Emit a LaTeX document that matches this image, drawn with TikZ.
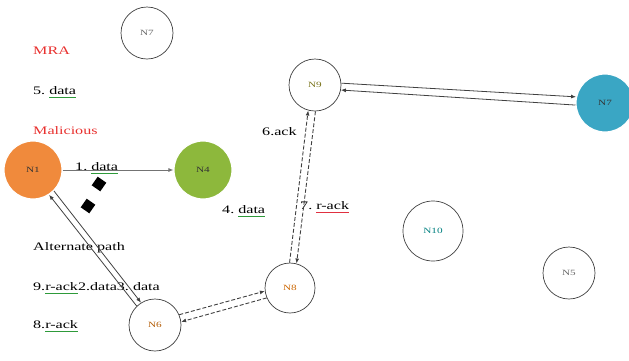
\documentclass[tikz,border=0pt]{standalone}
\usepackage{fontspec}
\setmainfont[FakeStretch=1.4]{Liberation Serif}
\usetikzlibrary{shapes.geometric,arrows.meta}
\newcommand{\ulc}[2]{\setbox0\hbox{#2}\rlap{\color{#1}\rule[-3pt]{\wd0}{0.8pt}}\box0\relax}
\definecolor{orN}{HTML}{F08A3C}
\definecolor{grN}{HTML}{8DB83C}
\definecolor{blN}{HTML}{3AA6C4}
\definecolor{ulg}{HTML}{2E9A3A}
\definecolor{ulr}{HTML}{E03040}
\definecolor{txr}{HTML}{E8302E}
\begin{document}
\begin{tikzpicture}[x=1pt,y=-1pt,
  wnode/.style={circle,draw=black!75,line width=0.7pt,fill=white,minimum size=52pt,inner sep=0pt,font=\fontsize{8}{9}\selectfont},
  cnode/.style={circle,draw=white,line width=1.2pt,minimum size=58pt,inner sep=0pt,font=\fontsize{8}{9}\selectfont,text=black!80},
  lbl/.style={anchor=west,inner sep=0pt,font=\fontsize{11.5}{12}\selectfont},
  tip/.style={-{Latex[length=5pt,width=4pt]}},
  conn/.style={draw=black!75,line width=0.8pt},
  dconn/.style={draw=black!75,line width=0.9pt,dash pattern=on 4pt off 2pt},
  dia/.style={diamond,fill=black,minimum size=15pt,inner sep=0pt,rotate=10}]
\useasboundingbox (0,0) rectangle (629,360);
% nodes
\node[wnode,text=black!60] (n7a) at (147,33) {N7};
\node[cnode,fill=orN] (n1) at (33,170) {N1};
\node[cnode,fill=grN] (n4) at (203,170) {N4};
\node[wnode,text=olive!80!black] (n9) at (315,85) {N9};
\node[cnode,fill=blN] (n7b) at (605,103) {N7};
\node[wnode,minimum size=60pt,text=teal] (n10) at (433,231) {N10};
\node[wnode,text=black!60] (n5) at (569,273) {N5};
\node[wnode,minimum size=50pt,text=orange!80!black] (n8) at (290,288) {N8};
\node[wnode,text=orange!70!black] (n6) at (155,325) {N6};
% diamonds
\node[dia] (d1) at (99,184) {};
\node[dia] (d2) at (88,206) {};
% labels
\node[lbl,text=txr] (mra) at (33,51) {MRA};
\node[lbl] (l5) at (33,92) {5.\ \ulc{ulg}{data}};
\node[lbl,text=txr] (mal) at (33,131) {Malicious};
\node[lbl] (l1) at (75,168) {1.\ \ulc{ulg}{data}};
\node[lbl] (l4) at (222,211) {4.\ \ulc{ulg}{data}};
\node[lbl] (l6) at (262,132) {6.ack};
\node[lbl] (l7) at (300,207) {7.\ \ulc{ulr}{r-ack}};
\node[lbl] (alt) at (33,248) {Alternate path};
\node[lbl] (l9) at (33,288) {9.\ulc{ulg}{r-ack}2.data3.\ data};
\node[lbl] (l8) at (33,326) {8.\ulc{ulg}{r-ack}};
% connectors
\draw[conn,draw=black!55,tip] (n1) -- (n4);
\draw[conn,tip] (n6.{128.2+6}) -- (n1.{-51.8-6});
\draw[conn,tip] (n1.{-51.8+6}) -- (n6.{128.2-6});
\draw[dconn,tip] (n6.{15.3+8}) -- (n8.{195.3-8});
\draw[dconn,tip] (n8.{195.3+8}) -- (n6.{15.3-8});
\draw[dconn,tip] (n8.{83+8}) -- (n9.{-97-8});
\draw[dconn,tip] (n9.{-97+8}) -- (n8.{83-8});
\draw[conn,tip] (n9.{-3.6+8}) -- (n7b.{176.4-8});
\draw[conn,tip] (n7b.{176.4+8}) -- (n9.{-3.6-8});
\end{tikzpicture}
\end{document}
